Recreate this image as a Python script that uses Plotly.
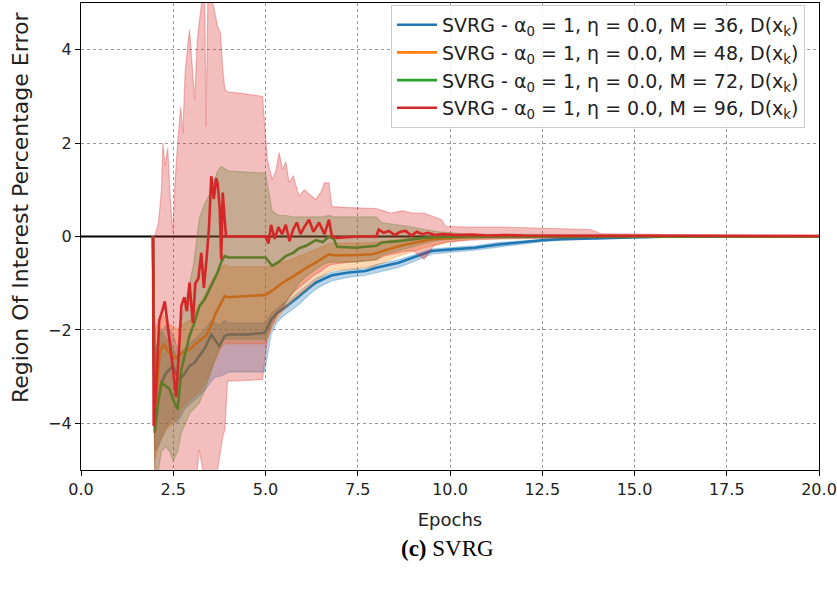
import plotly.graph_objects as go

# ---------------- data ----------------
labels = [
    "SVRG - α<sub>0</sub> = 1, η = 0.0, M = 36, D(x<sub>k</sub>)",
    "SVRG - α<sub>0</sub> = 1, η = 0.0, M = 48, D(x<sub>k</sub>)",
    "SVRG - α<sub>0</sub> = 1, η = 0.0, M = 72, D(x<sub>k</sub>)",
    "SVRG - α<sub>0</sub> = 1, η = 0.0, M = 96, D(x<sub>k</sub>)",
]
x_ticks = [0.0, 2.5, 5.0, 7.5, 10.0, 12.5, 15.0, 17.5, 20.0]
x_tick_text = ["0.0", "2.5", "5.0", "7.5", "10.0", "12.5", "15.0", "17.5", "20.0"]
y_ticks = [-4, -2, 0, 2, 4]

# M = 36 (blue)
blue_x = [1.95, 2.0, 2.09, 2.2, 2.31, 2.4, 2.49, 2.58, 2.67, 2.8, 2.94, 3.08, 3.21, 3.35, 3.53, 3.65, 3.75, 3.89, 4.0, 4.5,
          4.98, 5.15, 5.3, 5.46, 5.7, 5.91, 6.15, 6.36, 6.6, 6.8, 7.26, 7.71, 8.0, 8.3, 8.61, 9.0, 9.5, 9.96, 10.68, 11.31,
          12.0, 12.5, 13.0, 14.0, 15.0, 15.5, 16.0, 18.0, 20.0]
blue_y = [0.0, -4.0, -3.5, -3.1, -2.92, -2.85, -2.77, -2.95, -3.06, -2.95, -2.77, -2.7, -2.56, -2.4, -2.1, -2.25, -2.35, -2.13, -2.1, -2.1,
          -2.06, -1.78, -1.65, -1.56, -1.42, -1.28, -1.12, -0.99, -0.9, -0.83, -0.77, -0.74, -0.67, -0.62, -0.56, -0.45, -0.31, -0.28, -0.24, -0.17,
          -0.12, -0.08, -0.06, -0.04, -0.02, -0.01, 0.0, 0.0, 0.0]
blue_hi = [0.0, -2.5, -2.2, -2.0, -1.9, -2.0, -2.1, -2.3, -2.5, -2.4, -2.3, -2.2, -2.1, -2.0, -1.8, -1.85, -1.9, -1.8, -1.85, -1.85,
           -1.85, -1.65, -1.55, -1.45, -1.32, -1.18, -1.03, -0.9, -0.82, -0.76, -0.71, -0.68, -0.6, -0.55, -0.5, -0.4, -0.27, -0.24, -0.2, -0.13,
           -0.09, -0.06, -0.04, -0.02, -0.01, 0.0, 0.01, 0.01, 0.01]
blue_lo = [0.0, -4.6, -4.5, -4.3, -4.1, -4.0, -3.9, -4.0, -3.9, -3.7, -3.6, -3.5, -3.4, -3.3, -3.1, -3.0, -3.0, -2.95, -2.9, -2.9,
           -2.9, -2.1, -1.85, -1.72, -1.58, -1.45, -1.27, -1.13, -1.02, -0.95, -0.87, -0.83, -0.77, -0.72, -0.66, -0.54, -0.38, -0.34, -0.29, -0.22,
           -0.16, -0.11, -0.08, -0.05, -0.03, -0.02, -0.01, -0.01, -0.01]

# M = 48 (orange)
orange_x = [1.95, 2.0, 2.13, 2.25, 2.35, 2.48, 2.6, 2.72, 2.94, 3.1, 3.25, 3.39, 3.5, 3.66, 3.78, 3.89, 4.0, 4.5, 5.0, 5.2,
            5.46, 5.7, 5.91, 6.15, 6.36, 6.55, 6.72, 6.85, 7.3, 7.9, 8.2, 8.6, 9.0, 9.5, 10.0, 10.5, 11.0, 12.0, 14.0, 20.0]
orange_y = [0.0, -3.9, -2.49, -2.3, -2.45, -2.56, -2.6, -2.5, -2.42, -2.3, -2.2, -2.13, -1.95, -1.63, -1.45, -1.28, -1.3, -1.28, -1.25, -1.15,
            -0.99, -0.88, -0.77, -0.65, -0.56, -0.47, -0.38, -0.4, -0.4, -0.38, -0.3, -0.21, -0.14, -0.06, -0.03, -0.01, 0.0, 0.0, 0.0, 0.0]
orange_hi = [0.0, -2.0, -1.8, -1.7, -1.9, -1.9, -2.0, -1.9, -1.8, -1.6, -1.4, -1.2, -1.0, -0.8, -0.7, -0.6, -0.65, -0.65, -0.65, -0.6,
             -0.55, -0.5, -0.42, -0.35, -0.28, -0.22, -0.15, -0.15, -0.14, -0.13, -0.1, -0.06, -0.03, 0.0, 0.02, 0.02, 0.02, 0.01, 0.01, 0.01]
orange_lo = [0.0, -4.8, -4.4, -4.2, -4.1, -4.0, -3.9, -3.7, -3.5, -3.4, -3.3, -3.1, -2.9, -2.6, -2.4, -2.3, -2.3, -2.3, -2.3, -1.9,
             -1.6, -1.4, -1.25, -1.1, -0.95, -0.85, -0.75, -0.72, -0.7, -0.65, -0.55, -0.42, -0.32, -0.2, -0.12, -0.07, -0.04, -0.02, -0.01, -0.01]

# M = 72 (green)
green_x = [1.95, 2.0, 2.1, 2.18, 2.3, 2.4, 2.5, 2.62, 2.72, 2.83, 2.94, 3.05, 3.21, 3.35, 3.48, 3.6, 3.7, 3.8, 3.89, 4.0,
           4.5, 5.0, 5.18, 5.35, 5.55, 5.75, 5.91, 6.1, 6.36, 6.55, 6.72, 6.85, 6.94, 7.44, 8.0, 8.15, 8.6, 9.0, 9.3, 9.7,
           10.5, 20.0]
green_y = [0.0, -4.2, -3.5, -3.13, -3.2, -3.27, -3.5, -3.7, -2.85, -2.5, -2.13, -1.9, -1.49, -1.35, -1.13, -0.95, -0.77, -0.55, -0.42, -0.45,
           -0.45, -0.45, -0.63, -0.55, -0.42, -0.35, -0.25, -0.2, -0.08, -0.12, 0.0, -0.05, -0.22, -0.24, -0.2, -0.13, -0.1, -0.06, -0.03, -0.01,
           0.0, 0.0]
green_hi = [0.0, -2.5, -2.2, -2.0, -2.2, -2.2, -2.4, -2.6, -1.8, -1.4, -1.0, -0.6, 0.4, 0.7, 0.9, 1.2, 1.4, 1.5, 1.45, 1.4,
            1.38, 1.36, 0.55, 0.45, 0.45, 0.42, 0.42, 0.42, 0.42, 0.42, 0.45, 0.42, 0.42, 0.42, 0.42, 0.3, 0.25, 0.2, 0.15, 0.1,
            0.05, 0.02]
green_lo = [0.0, -5.2, -5.0, -4.6, -4.5, -4.6, -4.8, -4.6, -4.2, -4.0, -3.8, -3.7, -3.56, -3.3, -3.0, -2.7, -2.5, -2.3, -2.2, -2.2,
            -2.2, -2.2, -1.8, -1.6, -1.4, -1.2, -1.0, -0.85, -0.7, -0.6, -0.55, -0.55, -0.55, -0.55, -0.5, -0.4, -0.3, -0.22, -0.15, -0.08,
            -0.04, -0.01]

# M = 96 (red)
red_x = [1.95, 1.97, 2.05, 2.12, 2.2, 2.27, 2.35, 2.45, 2.58, 2.65, 2.72, 2.8, 2.87, 2.94, 3.03, 3.1, 3.18, 3.26, 3.33, 3.4,
         3.47, 3.53, 3.6, 3.66, 3.7, 3.76, 3.8, 3.84, 3.93, 4.5, 5.0, 5.08, 5.15, 5.25, 5.35, 5.45, 5.55, 5.65, 5.75, 5.85,
         5.95, 6.05, 6.18, 6.3, 6.45, 6.6, 6.72, 6.8, 6.94, 7.5, 8.0, 8.07, 8.2, 8.35, 8.5, 8.65, 8.8, 8.95, 9.1, 9.25,
         9.4, 9.6, 9.8, 10.2, 10.6, 11.0, 11.5, 12.0, 13.0, 14.0, 20.0]
red_y = [0.0, -4.06, -3.0, -1.8, -1.6, -1.39, -1.9, -2.6, -3.44, -2.5, -1.49, -1.3, -1.6, -0.99, -1.85, -1.0, -0.9, -0.35, -1.1, -0.5,
         0.2, 1.29, 0.8, 1.25, 1.15, 0.6, -0.49, 0.94, 0.0, 0.0, 0.0, -0.15, 0.25, -0.05, 0.2, 0.05, 0.25, -0.1, 0.15, 0.3,
         0.05, 0.2, 0.36, 0.1, 0.3, 0.05, 0.36, 0.0, -0.03, 0.0, 0.0, 0.15, 0.08, 0.12, 0.03, 0.1, 0.12, 0.02, 0.1, 0.05,
         0.08, 0.03, 0.05, 0.03, 0.04, 0.02, 0.03, 0.02, 0.02, 0.01, 0.01]
redb_x = [1.95, 2.0, 2.1, 2.18, 2.22, 2.28, 2.35, 2.42, 2.49, 2.55, 2.62, 2.7, 2.76, 2.82, 2.88, 2.94, 3.0, 3.08, 3.15, 3.2,
          3.26, 3.35, 3.39, 3.44, 3.48, 3.6, 3.7, 3.78, 3.84, 3.9, 3.97, 4.5, 4.92, 5.05, 5.18, 5.28, 5.37, 5.46, 5.55, 5.64,
          5.75, 5.91, 6.05, 6.2, 6.36, 6.5, 6.6, 6.72, 6.8, 7.26, 8.0, 8.2, 8.4, 8.7, 9.0, 9.3, 9.55, 9.77, 9.88, 10.5,
          11.5, 12.5, 13.8, 14.1, 16.0, 20.0]
red_hi = [0.0, 0.0, 0.3, 1.0, 2.0, 1.5, 1.9, 0.8, 0.08, 1.2, 2.0, 2.78, 2.2, 3.5, 4.0, 4.43, 3.8, 2.93, 4.2, 4.6,
          4.96, 5.3, 2.36, 5.3, 5.3, 4.9, 4.5, 4.36, 3.6, 3.14, 3.1, 3.05, 3.0, 1.65, 1.22, 1.4, 1.8, 1.43, 1.6, 1.15,
          1.3, 0.86, 1.0, 0.9, 0.79, 0.95, 1.15, 1.15, 0.64, 0.62, 0.6, 0.55, 0.5, 0.55, 0.5, 0.5, 0.42, 0.36, 0.22, 0.2,
          0.2, 0.18, 0.15, 0.06, 0.04, 0.03]
red_lo = [0.0, -5.5, -5.5, -5.5, -5.5, -5.5, -5.3, -5.5, -5.5, -5.4, -5.5, -5.5, -5.2, -5.5, -5.5, -5.5, -5.3, -5.5, -5.0, -4.56,
          -4.8, -5.2, -5.5, -5.1, -5.5, -5.3, -5.0, -4.6, -4.3, -4.13, -3.1, -3.08, -3.06, -2.2, -1.9, -1.75, -1.6, -1.55, -1.4, -1.3,
          -1.2, -1.1, -1.0, -0.9, -0.8, -0.75, -0.68, -0.62, -0.6, -0.55, -0.5, -0.42, -0.38, -0.33, -0.3, -0.49, -0.2, -0.15, -0.12, -0.08,
          -0.05, -0.04, -0.03, -0.02, -0.01, -0.01]

zero_x = [0.0, 20.0]
zero_y = [0.0, 0.0]

colors = ["#1f77b4", "#ff7f0e", "#2ca02c", "#d62728"]
fills = ["rgba(31,119,180,0.3)", "rgba(255,127,14,0.3)", "rgba(44,160,44,0.3)", "rgba(214,39,40,0.3)"]

series = [
    (blue_x, blue_y, blue_x, blue_hi, blue_lo),
    (orange_x, orange_y, orange_x, orange_hi, orange_lo),
    (green_x, green_y, green_x, green_hi, green_lo),
    (red_x, red_y, redb_x, red_hi, red_lo),
]
for sx, sy, bx, bh, bl in series:
    assert len(sx) == len(sy), (len(sx), len(sy))
    assert len(bx) == len(bh) == len(bl), (len(bx), len(bh), len(bl))

# ---------------- figure ----------------
fig = go.Figure()
fig.add_trace(go.Scatter(x=zero_x, y=zero_y, mode="lines", line=dict(color="black", width=2),
                         showlegend=False, hoverinfo="skip"))

for i, (sx, sy, bx, bh, bl) in enumerate(series):
    fig.add_trace(go.Scatter(x=list(bx) + list(bx)[::-1], y=list(bh) + list(bl)[::-1],
                             fill="toself", fillcolor=fills[i], mode="lines",
                             line=dict(color=fills[i], width=1.2), showlegend=False, hoverinfo="skip"))
    fig.add_trace(go.Scatter(x=sx, y=sy, mode="lines", name=labels[i],
                             line=dict(color=colors[i], width=2.6)))

axis_common = dict(showline=True, linecolor="black", linewidth=1.2, mirror=True,
                   ticks="outside", ticklen=5, tickcolor="black", tickwidth=1.2,
                   showgrid=True, gridcolor="#999999", griddash="dot", gridwidth=1,
                   zeroline=False, tickfont=dict(size=16, color="#222"),
                   ticklabeloverflow="allow", automargin=False)

fig.update_xaxes(range=[0, 20], tickmode="array", tickvals=x_ticks, ticktext=x_tick_text,
                 title=dict(text="Epochs", font=dict(size=18, color="#222"), standoff=15),
                 **axis_common)
fig.update_yaxes(range=[-5, 5], tickmode="array", tickvals=y_ticks, **axis_common)

# y-axis title placed as in the reference (shifted above the axis centre)
fig.add_annotation(text="Region Of Interest Percentage Error", xref="paper", yref="paper",
                   x=-0.0826, y=0.561, xanchor="center", yanchor="middle", textangle=-90,
                   showarrow=False, font=dict(size=22, color="#222"))

fig.add_annotation(text="<b>(c)</b> SVRG", xref="paper", yref="paper", x=0.496, y=-0.169,
                   xanchor="center", yanchor="middle", showarrow=False,
                   font=dict(family="Liberation Serif", size=23, color="black"))

fig.update_layout(
    width=837, height=592,
    margin=dict(l=81, r=18, t=3, b=122, autoexpand=False),
    paper_bgcolor="white", plot_bgcolor="white",
    font=dict(family="DejaVu Sans", size=17, color="#222"),
    showlegend=True,
    legend=dict(x=0.981, y=0.996, xanchor="right", yanchor="top",
                bgcolor="rgba(255,255,255,0.85)", bordercolor="#cccccc", borderwidth=1,
                font=dict(size=19, color="#222"), itemwidth=40, tracegroupgap=0),
)

fig.write_html("out.html")
